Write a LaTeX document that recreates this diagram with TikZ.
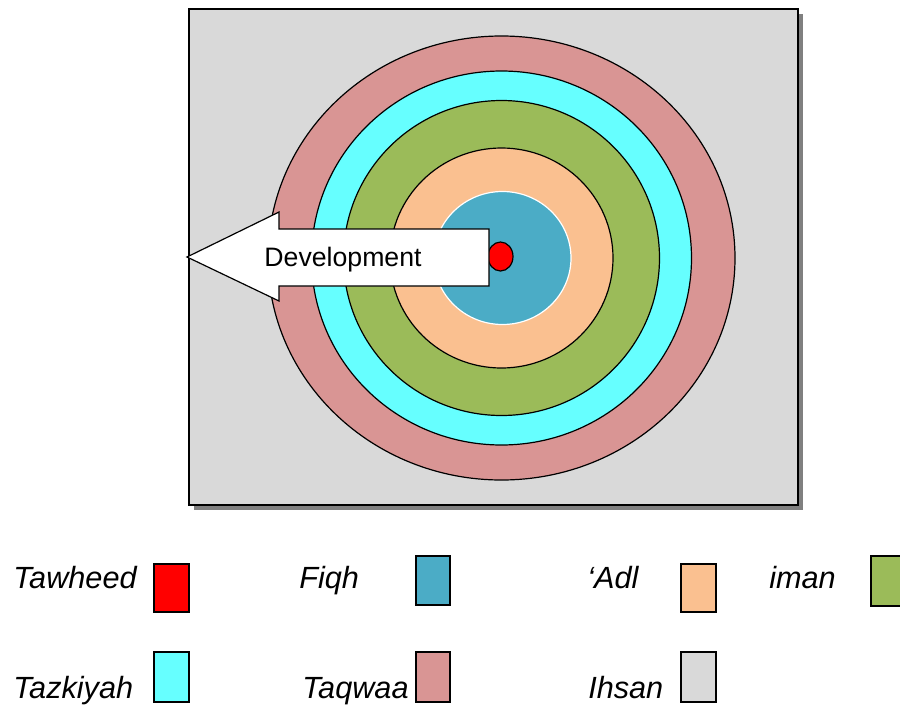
\documentclass[tikz,border=0pt]{standalone}
\usepackage{fontspec}
\setmainfont{Liberation Sans}
\begin{document}
\begin{tikzpicture}[x=0.75pt,y=0.75pt,yscale=-1,xscale=1]
\useasboundingbox (0,0) rectangle (900,711);

%Shape: Rectangle [id:shadow] 
\draw  [draw=none,fill={rgb, 255:red, 128; green, 128; blue, 128 }  ,fill opacity=1 ] (194,14) -- (803,14) -- (803,510) -- (194,510) -- cycle ;
%Shape: Rectangle [id:panel] 
\draw  [line width=0.9,fill={rgb, 255:red, 217; green, 217; blue, 217 }  ,fill opacity=1 ] (189,9) -- (798,9) -- (798,505) -- (189,505) -- cycle ;
%Shape: Ellipse [id:taqwaa] 
\draw  [line width=0.9,fill={rgb, 255:red, 217; green, 149; blue, 148 }  ,fill opacity=1 ] (501.5,258) ellipse (233.5 and 222) ;
%Shape: Ellipse [id:tazkiyah] 
\draw  [line width=0.9,fill={rgb, 255:red, 102; green, 255; blue, 255 }  ,fill opacity=1 ] (501.5,258) ellipse (190 and 187) ;
%Shape: Ellipse [id:iman] 
\draw  [line width=0.9,fill={rgb, 255:red, 155; green, 187; blue, 89 }  ,fill opacity=1 ] (501.5,258) ellipse (158 and 157.5) ;
%Shape: Ellipse [id:adl] 
\draw  [line width=0.9,fill={rgb, 255:red, 250; green, 192; blue, 144 }  ,fill opacity=1 ] (501.5,258) ellipse (111.5 and 110) ;
%Shape: Ellipse [id:fiqh] 
\draw  [line width=0.9,color=white,fill={rgb, 255:red, 75; green, 172; blue, 198 }  ,fill opacity=1 ] (502.5,258) ellipse (68.5 and 66.5) ;
%Shape: Ellipse [id:tawheed] 
\draw  [line width=0.9,fill={rgb, 255:red, 255; green, 0; blue, 0 }  ,fill opacity=1 ] (500.5,256.5) ellipse (12.5 and 14.5) ;

%Shape: Left Arrow [id:development] 
\draw  [line width=0.9,fill=white ,fill opacity=1 ] (187,257) -- (279,212) -- (279,229) -- (489,229) -- (489,286) -- (279,286) -- (279,301) -- cycle ;
\node (dev) at (343,260) {\fontsize{20}{24}\selectfont Development};

%Legend boxes
\draw  [line width=0.9,fill={rgb, 255:red, 255; green, 0; blue, 0 }  ,fill opacity=1 ] (154,564) rectangle (189,612) ;
\draw  [line width=0.9,fill={rgb, 255:red, 75; green, 172; blue, 198 }  ,fill opacity=1 ] (416,556) rectangle (450,605) ;
\draw  [line width=0.9,fill={rgb, 255:red, 250; green, 192; blue, 144 }  ,fill opacity=1 ] (681,564) rectangle (716,612) ;
\draw  [line width=0.9,fill={rgb, 255:red, 155; green, 187; blue, 89 }  ,fill opacity=1 ] (871,556) rectangle (906,606) ;
\draw  [line width=0.9,fill={rgb, 255:red, 102; green, 255; blue, 255 }  ,fill opacity=1 ] (154,652) rectangle (189,702) ;
\draw  [line width=0.9,fill={rgb, 255:red, 217; green, 149; blue, 148 }  ,fill opacity=1 ] (416,652) rectangle (450,702) ;
\draw  [line width=0.9,fill={rgb, 255:red, 217; green, 217; blue, 217 }  ,fill opacity=1 ] (681,652) rectangle (716,702) ;

%Legend labels
\begin{scope}[every node/.style={anchor=base west,inner sep=0,font=\fontsize{23}{27}\selectfont\itshape}]
\node (lTawheed) at (13,588) {Tawheed};
\node (lFiqh) at (299,588) {Fiqh};
\node (lAdl) at (587,588) {‘Adl};
\node (lIman) at (769,588) {iman};
\node (lTazkiyah) at (13,698) {Tazkiyah};
\node (lTaqwaa) at (302,698) {Taqwaa};
\node (lIhsan) at (588,698) {Ihsan};
\end{scope}

\end{tikzpicture}
\end{document}
